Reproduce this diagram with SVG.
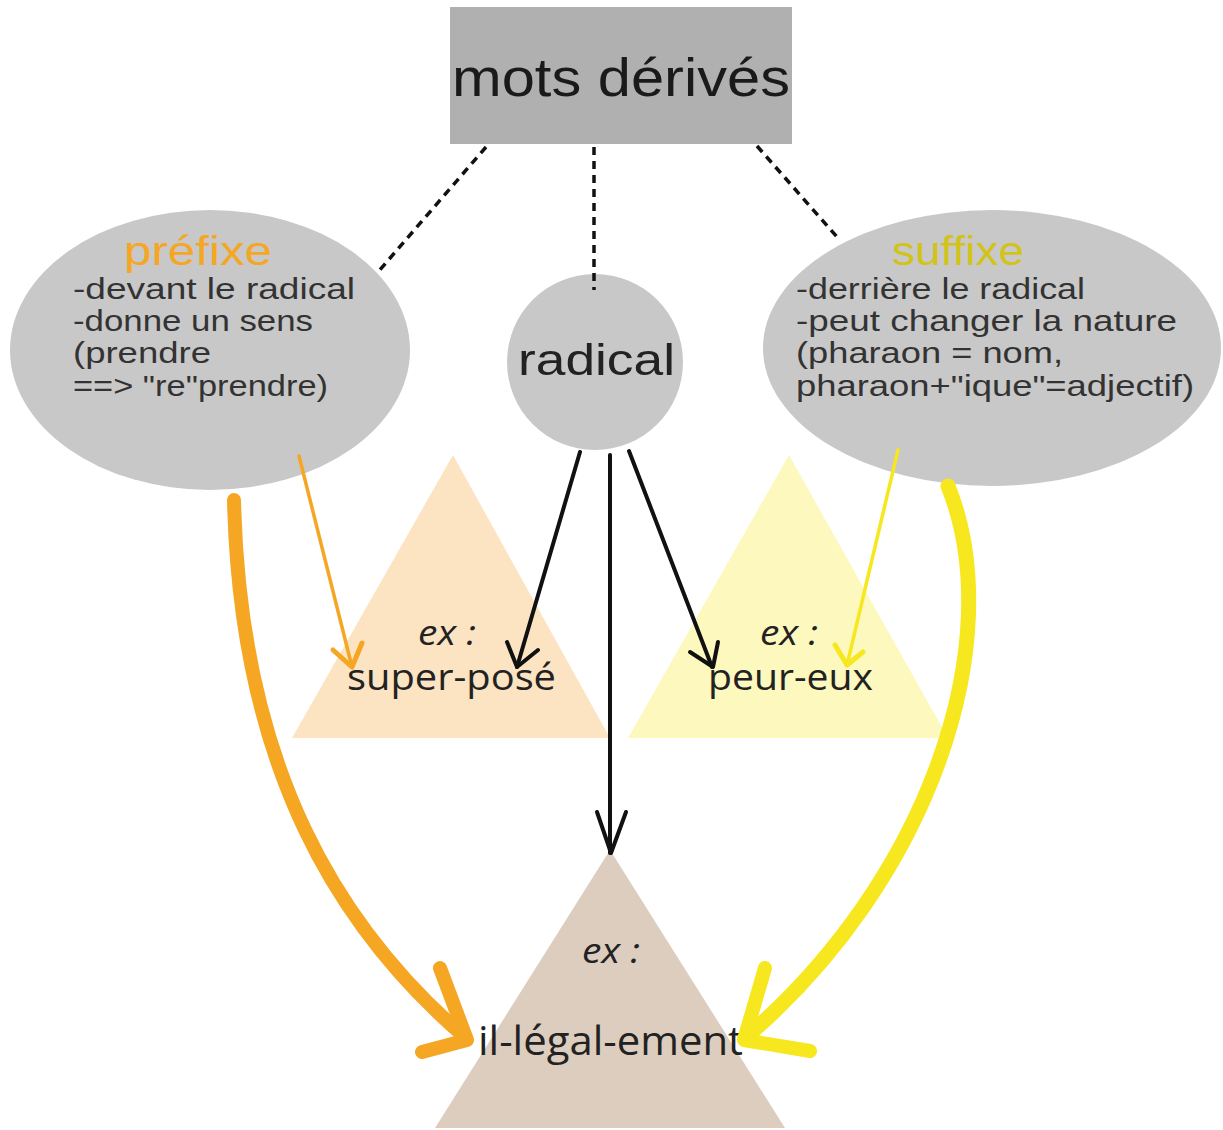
<svg xmlns="http://www.w3.org/2000/svg" width="1223" height="1130" viewBox="0 0 1223 1130">
<style>
.sans{font-family:"Liberation Sans","DejaVu Sans",sans-serif;}
.hand{font-family:"Open Sans","Liberation Sans",sans-serif;fill:#222;}
.body{font-size:29px;fill:#333;}
.dash{stroke:#111;stroke-width:3.5;stroke-dasharray:8 6;fill:none;}
.blk{stroke:#111;stroke-width:4;fill:none;stroke-linecap:round;stroke-linejoin:round;}
.ora{stroke:#f5a623;fill:none;stroke-linecap:round;stroke-linejoin:round;}
.yel{stroke:#f7e71e;fill:none;stroke-linecap:round;stroke-linejoin:round;}
</style>
<rect width="1223" height="1130" fill="#fff"/>
<g id="triangles">
<polygon id="tri-prefixe" points="453,455 610,738 292,738" fill="#fce4c3"/>
<polygon id="tri-suffixe" points="789,455 948,738 628,738" fill="#fdf8bd"/>
<polygon id="tri-bottom" points="610,850 785,1128 435,1128" fill="#dccdbe"/>
</g>
<g id="node-mots-derives">
<rect x="450" y="7" width="342" height="137" fill="#b0b0b0"/>
<text class="sans" x="452" y="96" font-size="54" fill="#1a1a1a" textLength="338" lengthAdjust="spacingAndGlyphs">mots dérivés</text>
</g>
<g id="node-prefixe">
<ellipse cx="210" cy="350" rx="200" ry="140" fill="#c8c8c8"/>
<text class="sans" x="124" y="265" font-size="40" fill="#f5a623" textLength="148" lengthAdjust="spacingAndGlyphs">préfixe</text>
<text class="sans body" x="73" y="299" textLength="282" lengthAdjust="spacingAndGlyphs">-devant le radical</text>
<text class="sans body" x="73" y="331" textLength="240" lengthAdjust="spacingAndGlyphs">-donne un sens</text>
<text class="sans body" x="73" y="363" textLength="138" lengthAdjust="spacingAndGlyphs">(prendre</text>
<text class="sans body" x="73" y="396" textLength="255" lengthAdjust="spacingAndGlyphs">==&gt; "re"prendre)</text>
</g>
<g id="node-radical">
<circle cx="595" cy="362" r="88" fill="#c8c8c8"/>
<text class="sans" x="518" y="375" font-size="44" fill="#222" textLength="157" lengthAdjust="spacingAndGlyphs">radical</text>
</g>
<g id="node-suffixe">
<ellipse cx="992" cy="348" rx="229" ry="138" fill="#c8c8c8"/>
<text class="sans" x="892" y="265" font-size="40" fill="#d2c318" textLength="132" lengthAdjust="spacingAndGlyphs">suffixe</text>
<text class="sans body" x="796" y="299" textLength="289" lengthAdjust="spacingAndGlyphs">-derrière le radical</text>
<text class="sans body" x="796" y="331" textLength="381" lengthAdjust="spacingAndGlyphs">-peut changer la nature</text>
<text class="sans body" x="796" y="363" textLength="267" lengthAdjust="spacingAndGlyphs">(pharaon = nom,</text>
<text class="sans body" x="796" y="396" textLength="398" lengthAdjust="spacingAndGlyphs">pharaon+"ique"=adjectif)</text>
</g>
<g id="node-ex-prefixe">
<text class="hand" x="418" y="645" font-size="34" font-style="italic" textLength="58" lengthAdjust="spacingAndGlyphs">ex :</text>
<text class="hand" x="347" y="690" font-size="36" textLength="209" lengthAdjust="spacingAndGlyphs">super-posé</text>
</g>
<g id="node-ex-suffixe">
<text class="hand" x="760" y="645" font-size="34" font-style="italic" textLength="58" lengthAdjust="spacingAndGlyphs">ex :</text>
<text class="hand" x="708" y="690" font-size="36" textLength="165" lengthAdjust="spacingAndGlyphs">peur-eux</text>
</g>
<g id="node-ex-bottom">
<text class="hand" x="582" y="963" font-size="34" font-style="italic" textLength="58" lengthAdjust="spacingAndGlyphs">ex :</text>
<text class="hand" x="478" y="1055" font-size="40" textLength="265" lengthAdjust="spacingAndGlyphs">il-légal-ement</text>
</g>
<g id="connectors">
<line class="dash" x1="486" y1="147" x2="378" y2="272"/>
<line class="dash" x1="594" y1="147" x2="594" y2="290"/>
<line class="dash" x1="757" y1="146" x2="838" y2="238"/>
<line class="blk" x1="580" y1="452" x2="517" y2="667"/>
<polyline class="blk" stroke-width="5" points="507,642 517,667 538,650"/>
<line class="blk" x1="610" y1="455" x2="610" y2="853"/>
<polyline class="blk" stroke-width="6" points="597,812 611,853 626,812"/>
<line class="blk" x1="629" y1="451" x2="712" y2="667"/>
<polyline class="blk" stroke-width="5" points="690,652 713,667 718,642"/>
<line class="ora" stroke-width="3.5" x1="299" y1="456" x2="352" y2="667"/>
<polyline class="ora" stroke-width="5" points="333,650 352,667 362,643"/>
<line class="yel" stroke-width="3.5" x1="898" y1="450" x2="847" y2="665"/>
<polyline class="yel" stroke-width="5" points="835,645 847,665 863,652"/>
<path class="ora" stroke-width="14" d="M234,500 C240,770 340,930 466,1038"/>
<polyline class="ora" stroke-width="14" points="440,968 467,1040 422,1052"/>
<path class="yel" stroke-width="15" d="M948,486 C1010,640 930,880 745,1038"/>
<polyline class="yel" stroke-width="14" points="765,968 744,1040 810,1051"/>
</g>
</svg>
